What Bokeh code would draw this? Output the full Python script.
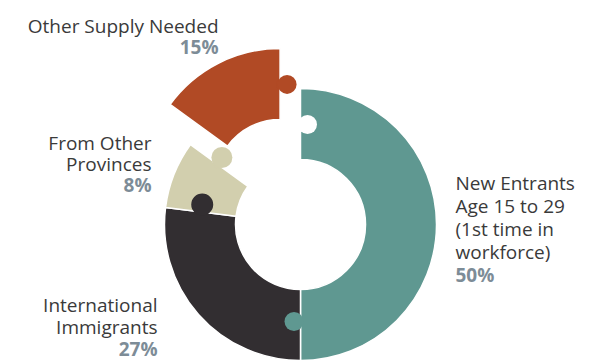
import math
from bokeh.plotting import figure
from bokeh.models import Range1d, ColumnDataSource
from bokeh.core.properties import value
from bokeh.embed import file_html
from bokeh.resources import INLINE

# ---- data ----
categories = ["New Entrants", "International Immigrants", "From Other Provinces", "Other Supply Needed"]
shares = [50, 27, 8, 15]
colors = ["#5f9891", "#322e31", "#d2cfae", "#b14a25"]
label_lines = [
    ["New Entrants", "Age 15 to 29", "(1st time in", "workforce)"],
    ["International", "Immigrants"],
    ["From Other", "Provinces"],
    ["Other Supply Needed"],
]
pct_labels = [f"{s}%" for s in shares]

# ---- layout parameters ----
W, H = 591, 360
cx, cy = 300, 136
r_in, r_out = 65, 136
explode = [0, 0, 0, 45]
knob_r = [9.5, 11, 10.5, 9.5]
knob_rad = [97, 100, 103, 100]
knob_shift = [6.5, 7.5, 8, 7]

p = figure(width=W, height=H, output_backend="svg", toolbar_location=None,
           x_range=Range1d(0, W), y_range=Range1d(0, H),
           x_axis_type=None, y_axis_type=None, min_border=0)
p.grid.visible = False
p.outline_line_color = None
p.background_fill_color = "white"

starts, ends, ox, oy = [], [], [], []
cum = 0
for s, e in zip(shares, explode):
    a0 = 90 - 360 * cum / 100
    a1 = 90 - 360 * (cum + s) / 100
    cum += s
    mid = math.radians((a0 + a1) / 2)
    starts.append(math.radians(a0))
    ends.append(math.radians(a1))
    ox.append(cx + e * math.cos(mid))
    oy.append(cy + e * math.sin(mid))

src = ColumnDataSource(dict(x=ox, y=oy, start=starts, end=ends, color=colors))
p.annular_wedge(x="x", y="y", inner_radius=r_in, outer_radius=r_out,
                start_angle="start", end_angle="end", direction="clock",
                fill_color="color", line_color="white", line_width=1.5, source=src)

# puzzle knobs: each segment's knob sits at its clockwise end, pushing into the next
for i in range(len(shares)):
    th = ends[i]
    nxt = (i + 1) % len(shares)
    bx = cx + knob_rad[i] * math.cos(th) + knob_shift[i] * math.sin(th)
    by = cy + knob_rad[i] * math.sin(th) - knob_shift[i] * math.cos(th)
    dx, dy = ox[i] - cx, oy[i] - cy
    if explode[i] != explode[nxt]:
        # notch left in the neighbour, knob moves with the exploded piece
        p.circle(x=[bx], y=[by], radius=knob_r[i], fill_color="white", line_color=None)
        # neck joining the knob to its own piece
        nx = bx - 0.6 * knob_r[i] * math.sin(th) + dx
        ny = by + 0.6 * knob_r[i] * math.cos(th) + dy
        p.circle(x=[nx], y=[ny], radius=knob_r[i] * 0.55, fill_color=colors[i], line_color=None)
    p.circle(x=[bx + dx], y=[by + dy], radius=knob_r[i], fill_color=colors[i], line_color=None)

# ---- labels ----
font = value("Open Sans")
txt_col = "#3a3a3a"
pct_col = "#7d8c97"
fs = "19px"
lab_pos = [(455, "left", 182, 23), (157, "right", 304, 22), (151, "right", 142, 21), (218, "right", 25, 21)]
for i, (lx, align, top_base, step) in enumerate(lab_pos):
    lines = label_lines[i]
    ys = [H - (top_base + k * step) for k in range(len(lines))]
    p.text(x=[lx] * len(lines), y=ys, text=lines, text_font=font, text_font_size=fs,
           text_color=txt_col, text_align=align, text_baseline="alphabetic")
    p.text(x=[lx], y=[H - (top_base + len(lines) * step)], text=[pct_labels[i]], text_font=font,
           text_font_size=fs, text_font_style="bold", text_color=pct_col,
           text_align=align, text_baseline="alphabetic")

open("out.html", "w").write(file_html(p, INLINE))
